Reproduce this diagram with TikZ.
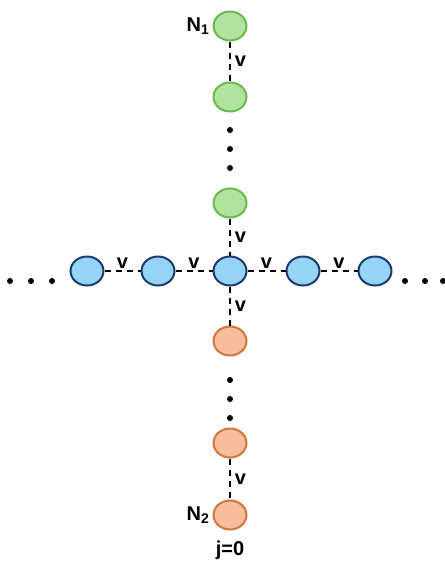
\documentclass[tikz,border=0pt]{standalone}
\usepackage{fontspec}
\setmainfont{Liberation Sans}
\usetikzlibrary{shapes.geometric}
\begin{document}
\begin{tikzpicture}[x=1pt,y=-1pt,
  site/.style={ellipse, minimum width=33pt, minimum height=29pt, line width=2pt, inner sep=0pt},
  gsite/.style={site, draw={rgb,255:red,104;green,186;blue,76}, fill={rgb,255:red,178;green,226;blue,160}},
  bsite/.style={site, draw={rgb,255:red,28;green,58;blue,108}, fill={rgb,255:red,150;green,212;blue,245}},
  osite/.style={site, draw={rgb,255:red,214;green,116;blue,56}, fill={rgb,255:red,246;green,190;blue,158}},
  hop/.style={dashed, dash pattern=on 6pt off 5pt, line width=1.6pt},
  lbl/.style={font=\fontsize{20}{24}\selectfont\bfseries, inner sep=0pt},
  dot/.style={circle, fill=black, minimum size=6pt, inner sep=0pt}]
\useasboundingbox (0,0) rectangle (445,563);
% vertical chain, upper part
\node[gsite] (g1) at (230,26) {};
\node[gsite] (g2) at (230,97) {};
\node[gsite] (g3) at (230,203) {};
% horizontal chain
\node[bsite] (b1) at (87,271) {};
\node[bsite] (b2) at (158,271) {};
\node[bsite] (b0) at (230,271) {};
\node[bsite] (b3) at (303,271) {};
\node[bsite] (b4) at (375,271) {};
% vertical chain, lower part
\node[osite] (o1) at (230,341) {};
\node[osite] (o2) at (230,443) {};
\node[osite] (o3) at (230,515) {};
% hops
\draw[hop] (g1) -- (g2) node[lbl, midway, right=4pt] {v};
\draw[hop] (g3) -- (b0) node[lbl, midway, right=4pt] {v};
\draw[hop] (b0) -- (o1) node[lbl, midway, right=4pt] {v};
\draw[hop] (o2) -- (o3) node[lbl, midway, right=4pt] {v};
\draw[hop] (b1) -- (b2) node[lbl, midway, above=2pt] {v};
\draw[hop] (b2) -- (b0) node[lbl, midway, above=2pt] {v};
\draw[hop] (b0) -- (b3) node[lbl, midway, above=2pt] {v};
\draw[hop] (b3) -- (b4) node[lbl, midway, above=2pt] {v};
% ellipsis dots
\node[dot] (d1) at (230,130) {};
\node[dot] (d2) at (230,149) {};
\node[dot] (d3) at (230,168) {};
\node[dot] (d4) at (230,380) {};
\node[dot] (d5) at (230,399) {};
\node[dot] (d6) at (230,418) {};
\node[dot] (l1) at (10,281) {};
\node[dot] (l2) at (31,281) {};
\node[dot] (l3) at (52,281) {};
\node[dot] (r1) at (405,281) {};
\node[dot] (r2) at (425,281) {};
\node[dot] (r3) at (443,281) {};
% labels
\node[lbl, left=3pt] (n1) at (g1.west) {N$_{\mathbf 1}$};
\node[lbl, left=3pt] (n2) at (o3.west) {N$_{\mathbf 2}$};
\node[lbl] (j0) at (230,550) {j=0};
\end{tikzpicture}
\end{document}
